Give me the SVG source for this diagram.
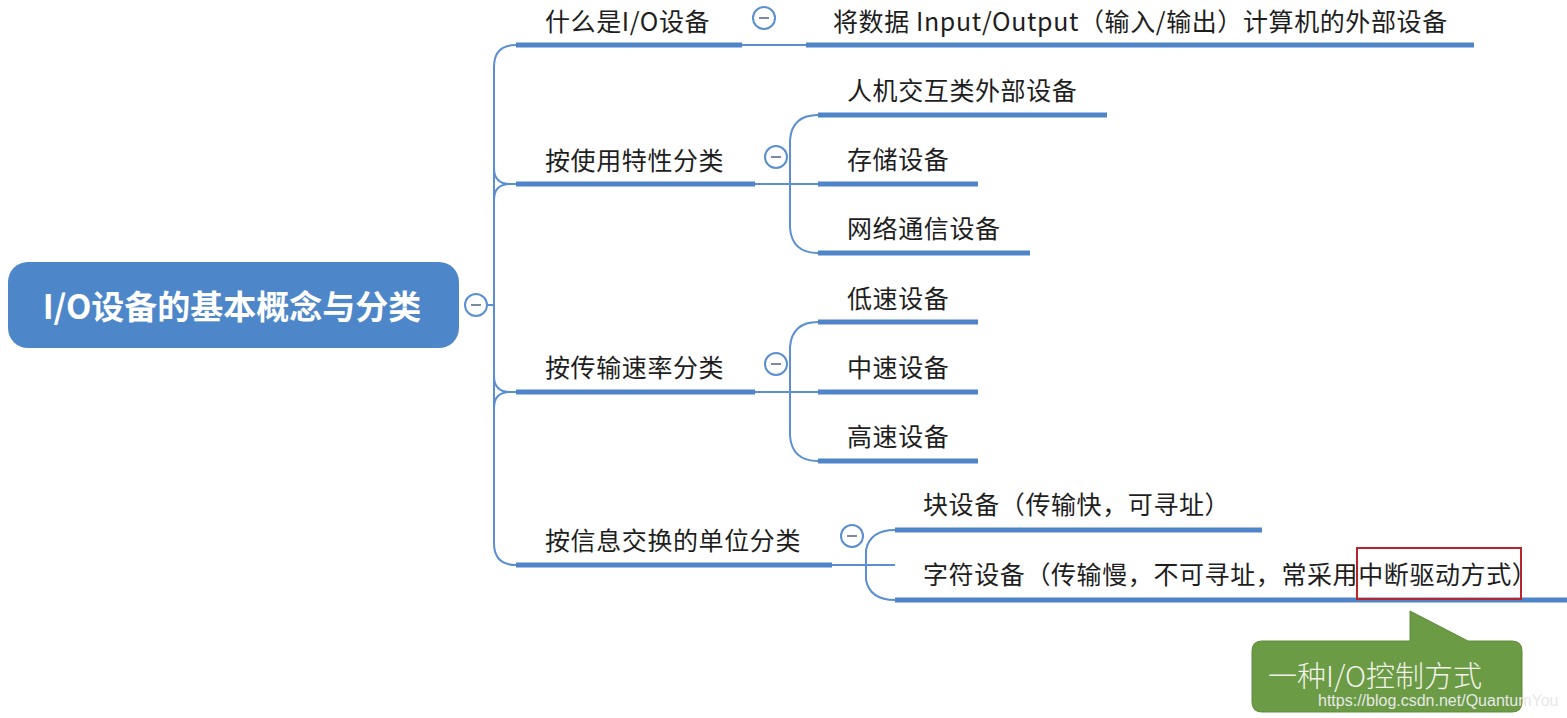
<svg xmlns="http://www.w3.org/2000/svg" width="1567" height="718" viewBox="0 0 1567 718">
<style>
.t{font-family:"Noto Sans CJK SC","Liberation Sans",sans-serif;font-size:25px;fill:#1e1e1e;letter-spacing:0.6px}
.ul{stroke:#4f84c8;stroke-width:5;fill:none}
.ln{stroke:#5b8fd0;stroke-width:2;fill:none}
.cc{fill:#fff;stroke:#5b8fd0;stroke-width:2}
.cm{stroke:#7a8aa0;stroke-width:2}
</style>
<rect width="1567" height="718" fill="#fff"/>
<g id="connectors">
<path class="ln" d="M487 305 H494"/>
<path class="ln" d="M516 45 Q494 45 494 67 V543 Q494 565 516 565"/>
<path class="ln" d="M494 168 Q494 184 510 184 H516 M494 200 Q494 184 510 184"/>
<path class="ln" d="M494 376 Q494 392 510 392 H516 M494 408 Q494 392 510 392"/>
<path class="ln" d="M742 45 H806"/>
<path class="ln" d="M755 184 H818 M818 115 Q792 115 790 140 L790 228 Q792 253 818 253"/>
<path class="ln" d="M755 392 H818 M818 322 Q792 322 790 347 L790 436 Q792 461 818 461"/>
<path class="ln" d="M832 565 H895 M895 530 Q870 530 866 550 L866 580 Q870 600 895 600"/>
</g>
<g id="root">
<rect x="8" y="262" width="451" height="86" rx="20" fill="#4e87c9"/>
<text x="232" y="319" text-anchor="middle" style="font-family:'Noto Sans CJK SC','Liberation Sans',sans-serif;font-size:33px;font-weight:bold;fill:#fff">I/O设备的基本概念与分类</text>
<circle class="cc" cx="476" cy="305" r="11"/><path class="cm" d="M471 305 H481"/>
</g>
<g id="b1">
<text class="t" x="545" y="31">什么是I/O设备</text>
<path class="ul" d="M516 45 H742"/>
<circle class="cc" cx="764" cy="18" r="11"/><path class="cm" d="M759 18 H769"/>
</g>
<g id="b1c">
<text class="t" x="833" y="31">将数据 Input/Output（输入/输出）计算机的外部设备</text>
<path class="ul" d="M806 45 H1474"/>
</g>
<g id="b2">
<text class="t" x="545" y="170">按使用特性分类</text>
<path class="ul" d="M516 184 H755"/>
<circle class="cc" cx="776" cy="157" r="11"/><path class="cm" d="M771 157 H781"/>
</g>
<g id="b2c1"><text class="t" x="847" y="100">人机交互类外部设备</text><path class="ul" d="M818 115 H1107"/></g>
<g id="b2c2"><text class="t" x="847" y="169">存储设备</text><path class="ul" d="M818 184 H978"/></g>
<g id="b2c3"><text class="t" x="847" y="238">网络通信设备</text><path class="ul" d="M818 253 H1030"/></g>
<g id="b3">
<text class="t" x="545" y="377">按传输速率分类</text>
<path class="ul" d="M516 392 H755"/>
<circle class="cc" cx="776" cy="364" r="11"/><path class="cm" d="M771 364 H781"/>
</g>
<g id="b3c1"><text class="t" x="847" y="308">低速设备</text><path class="ul" d="M818 322 H978"/></g>
<g id="b3c2"><text class="t" x="847" y="377">中速设备</text><path class="ul" d="M818 392 H978"/></g>
<g id="b3c3"><text class="t" x="847" y="446">高速设备</text><path class="ul" d="M818 461 H978"/></g>
<g id="b4">
<text class="t" x="545" y="550">按信息交换的单位分类</text>
<path class="ul" d="M516 565 H832"/>
<circle class="cc" cx="852" cy="536" r="11"/><path class="cm" d="M847 536 H857"/>
</g>
<g id="b4c1"><text class="t" x="923" y="514">块设备（传输快，可寻址）</text><path class="ul" d="M895 530 H1262"/></g>
<g id="b4c2"><text class="t" x="923" y="584">字符设备（传输慢，不可寻址，常采用中断驱动方式）</text><path class="ul" d="M895 600 H1567"/></g>
<rect x="1357" y="548" width="164" height="51" fill="none" stroke="#b8262c" stroke-width="2"/>
<g id="callout">
<path d="M1262 641 H1410 V611 L1468 641 H1512 Q1522 641 1522 651 V702 Q1522 712 1512 712 H1262 Q1252 712 1252 702 V651 Q1252 641 1262 641 Z" fill="#6b9b45" stroke="#5e8a3c" stroke-width="1"/>
<text x="1268" y="687" style="font-family:'Noto Sans CJK SC','Liberation Sans',sans-serif;font-size:29px;font-weight:300;fill:#f2f2ea">一种I/O控制方式</text>
<text x="1318" y="706" style="font-family:'Liberation Sans',sans-serif;font-size:16px;fill:#e8e8e8">https://blog.csdn.net/QuantumYou</text>
</g>
</svg>
